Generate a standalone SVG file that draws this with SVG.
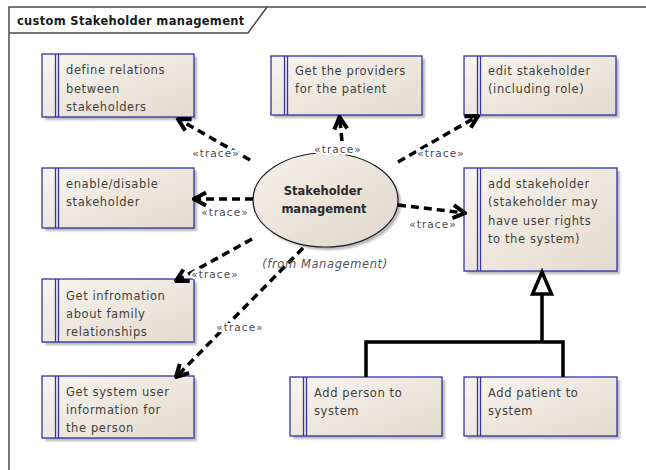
<svg xmlns="http://www.w3.org/2000/svg" width="646" height="470" viewBox="0 0 646 470">
<defs>
<linearGradient id="boxg" x1="0" y1="0" x2="1" y2="1">
<stop offset="0" stop-color="#f8f5f0"/>
<stop offset="1" stop-color="#e3dacd"/>
</linearGradient>
<linearGradient id="ellg" x1="0" y1="0" x2="1" y2="1">
<stop offset="0" stop-color="#f5f1ea"/>
<stop offset="1" stop-color="#e0d7ca"/>
</linearGradient>
<filter id="blur" x="-10%" y="-10%" width="120%" height="120%"><feGaussianBlur stdDeviation="1"/></filter>
<marker id="open" viewBox="-15 -10 17 20" refX="0" refY="0" markerWidth="17" markerHeight="20" markerUnits="userSpaceOnUse" orient="auto">
<path d="M-12,-6.5 L0,0 L-12,6.5" fill="none" stroke="#000" stroke-width="4" stroke-dasharray="none" stroke-linejoin="miter"/>
</marker>
</defs>
<style>
.frame{fill:none;stroke:#4a4a4a;stroke-width:1.5}
.title{font-family:"DejaVu Sans",sans-serif;font-size:11.5px;font-weight:bold;fill:#1a1a1a;letter-spacing:0.3px}
.shadow{fill:#b8b8b8;filter:url(#blur)}
.box{fill:url(#boxg);stroke:#3434a4;stroke-width:1.3}
.bar{stroke:#3434a4;stroke-width:1.3}
.txt{font-family:"DejaVu Sans",sans-serif;font-size:11.5px;fill:#3f3f3f;letter-spacing:0.6px}
.ell{fill:url(#ellg);stroke:#1a1a1a;stroke-width:1.2}
.etxt{font-family:"DejaVu Sans",sans-serif;font-size:11.5px;font-weight:bold;fill:#2a2a2a;text-anchor:middle}
.from{font-family:"DejaVu Sans",sans-serif;font-size:11.5px;font-style:italic;fill:#555;text-anchor:middle;letter-spacing:0.6px}
.dep{fill:none;stroke:#000;stroke-width:3.5;stroke-dasharray:8 5;marker-end:url(#open)}
.lbl{font-family:"DejaVu Sans",sans-serif;font-size:10.5px;fill:#4a4a55;text-anchor:middle;letter-spacing:1.1px;paint-order:stroke;stroke:#fff;stroke-width:4px;stroke-linejoin:round}
.gen{fill:none;stroke:#000;stroke-width:3.5}
</style>
<rect width="646" height="470" fill="#fff"/>

<g id="frame">
<path class="frame" d="M9,470 V7 H646"/>
<path class="frame" d="M9,33 H248 L267,7"/>
<text class="title" x="17" y="25">custom Stakeholder management</text>
</g>

<g id="n1">
<rect class="shadow" x="45" y="57" width="152" height="63"/>
<rect class="box" x="42" y="54" width="152" height="63"/>
<path class="bar" d="M55.5,54 V117 M58.5,54 V117"/>
<text class="txt" x="66" y="74">define relations</text>
<text class="txt" x="66" y="92.5">between</text>
<text class="txt" x="66" y="111">stakeholders</text>
</g>

<g id="n2">
<rect class="shadow" x="274" y="59" width="151" height="59"/>
<rect class="box" x="271" y="56" width="151" height="59"/>
<path class="bar" d="M284.5,56 V115 M287.5,56 V115"/>
<text class="txt" x="295" y="75">Get the providers</text>
<text class="txt" x="295" y="93.3">for the patient</text>
</g>

<g id="n3">
<rect class="shadow" x="467" y="59" width="152" height="59"/>
<rect class="box" x="464" y="56" width="152" height="59"/>
<path class="bar" d="M477.5,56 V115 M480.5,56 V115"/>
<text class="txt" x="488" y="75">edit stakeholder</text>
<text class="txt" x="488" y="93.3">(including role)</text>
</g>

<g id="n4">
<rect class="shadow" x="45" y="171" width="152" height="60"/>
<rect class="box" x="42" y="168" width="152" height="60"/>
<path class="bar" d="M55.5,168 V228 M58.5,168 V228"/>
<text class="txt" x="66" y="188">enable/disable</text>
<text class="txt" x="66" y="206.3">stakeholder</text>
</g>

<g id="n5">
<rect class="shadow" x="467" y="171" width="153" height="103"/>
<rect class="box" x="464" y="168" width="153" height="103"/>
<path class="bar" d="M477.5,168 V271 M480.5,168 V271"/>
<text class="txt" x="488" y="188">add stakeholder</text>
<text class="txt" x="488" y="206.3">(stakeholder may</text>
<text class="txt" x="488" y="224.6">have user rights</text>
<text class="txt" x="488" y="242.9">to the system)</text>
</g>

<g id="n6">
<rect class="shadow" x="45" y="282" width="152" height="63"/>
<rect class="box" x="42" y="279" width="152" height="63"/>
<path class="bar" d="M55.5,279 V342 M58.5,279 V342"/>
<text class="txt" x="66" y="300">Get infromation</text>
<text class="txt" x="66" y="318">about family</text>
<text class="txt" x="66" y="336">relationships</text>
</g>

<g id="n7">
<rect class="shadow" x="45" y="379" width="152" height="62"/>
<rect class="box" x="42" y="376" width="152" height="62"/>
<path class="bar" d="M55.5,376 V438 M58.5,376 V438"/>
<text class="txt" x="66" y="396">Get system user</text>
<text class="txt" x="66" y="414">information for</text>
<text class="txt" x="66" y="432">the person</text>
</g>

<g id="n8">
<rect class="shadow" x="293" y="380" width="152" height="59"/>
<rect class="box" x="290" y="377" width="152" height="59"/>
<path class="bar" d="M303.5,377 V436 M306.5,377 V436"/>
<text class="txt" x="314" y="397">Add person to</text>
<text class="txt" x="314" y="415">system</text>
</g>

<g id="n9">
<rect class="shadow" x="467" y="380" width="153" height="59"/>
<rect class="box" x="464" y="377" width="153" height="59"/>
<path class="bar" d="M477.5,377 V436 M480.5,377 V436"/>
<text class="txt" x="488" y="397">Add patient to</text>
<text class="txt" x="488" y="415">system</text>
</g>

<g id="center">
<ellipse class="shadow" cx="328.5" cy="203" rx="72.5" ry="47"/>
<ellipse class="ell" cx="325.5" cy="200" rx="72.5" ry="47"/>
<text class="etxt" x="323" y="195">Stakeholder</text>
<text class="etxt" x="324" y="213">management</text>
</g>

<g id="connectors">
<path class="dep" d="M250,160 L178,119"/>
<path class="dep" d="M342,141 L339.5,117"/>
<path class="dep" d="M398,162 L478,116"/>
<path class="dep" d="M253,199 L194,199"/>
<path class="dep" d="M398,205 L465,213"/>
<path class="dep" d="M252,239 L176,281"/>
<path class="dep" d="M303,248 L176,377"/>
<path class="gen" d="M366,377 V342 H563 V377 M542,342 V293"/>
<path d="M542,272 L551.5,294 L532.5,294 Z" fill="#fff" stroke="#000" stroke-width="3.5" stroke-linejoin="miter"/>
<text class="lbl" x="216" y="156.5">«trace»</text>
<text class="lbl" x="338" y="152.5">«trace»</text>
<text class="lbl" x="441" y="156.5">«trace»</text>
<text class="lbl" x="225" y="215.5">«trace»</text>
<text class="lbl" x="433" y="227.5">«trace»</text>
<text class="lbl" x="215" y="277.5">«trace»</text>
<text class="lbl" x="240" y="330.5">«trace»</text>
</g>

<text class="from" x="325" y="268">(from Management)</text>
</svg>
